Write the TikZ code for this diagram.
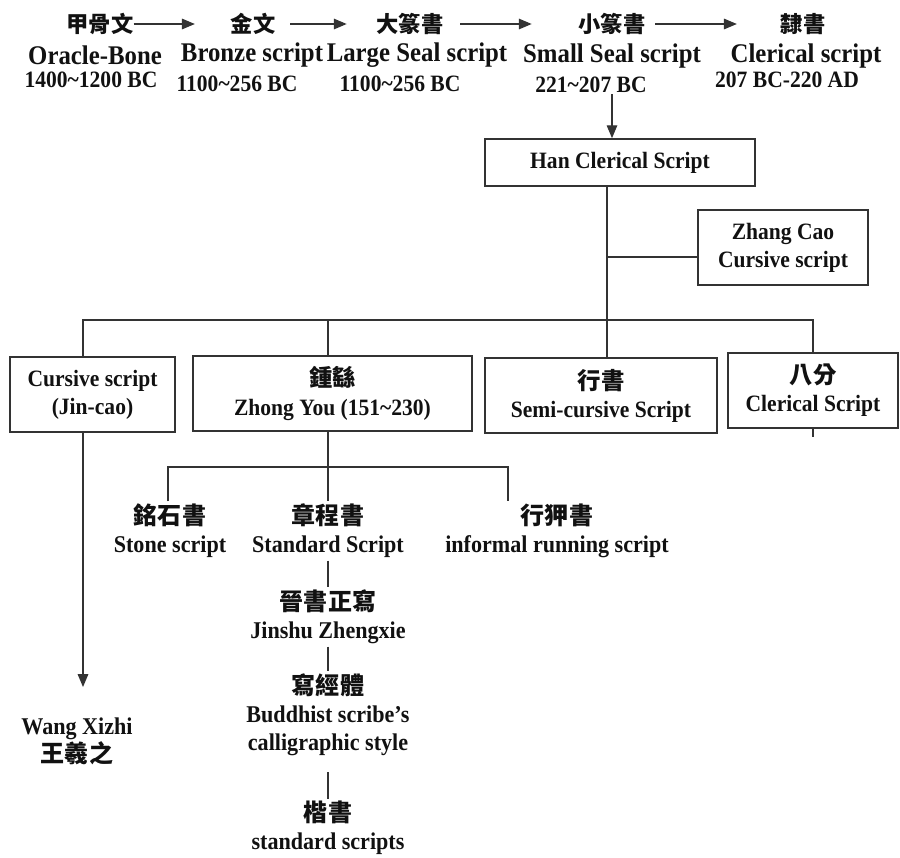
\documentclass[tikz,border=0pt]{standalone}
\usepackage{fontspec}
\setmainfont{Liberation Serif}[FakeStretch=0.92]
\newfontfamily\hanzi{Noto Sans CJK TC}
\usetikzlibrary{arrows.meta}
\definecolor{ink}{HTML}{111111}
\definecolor{wire}{HTML}{333333}

\begin{document}
\begin{tikzpicture}[x=0.03cm, y=-0.03cm, font=\bfseries, text=ink]
  % one unit = one pixel of the 900 x 857 sheet, y runs downward
  \useasboundingbox (0,0) rectangle (900,857);
  \tikzset{
    hz/.style={font=\hanzi\bfseries\fontsize{19}{24}\selectfont, inner sep=0pt},
    era/.style={font=\bfseries\fontsize{23}{26}\selectfont, inner sep=1pt},
    yr/.style={font=\bfseries\fontsize{20}{24}\selectfont, inner sep=1pt},
    box/.style={draw=wire, line width=1.4pt, align=center,
                font=\bfseries\fontsize{20}{24}\selectfont},
    txt/.style={align=center, inner sep=2pt,
                font=\bfseries\fontsize{20.5}{24}\selectfont},
    wire/.style={draw=wire, line width=1.1pt},
    arr/.style={wire, -{Triangle[length=11pt,width=9pt]}}}

  % ========== the top row: five eras, left to right ==========
  \node[hz] (c1) at (100,24) {甲骨文};
  \node[hz] (c2) at (253,24) {金文};
  \node[hz] (c3) at (410,24) {大篆書};
  \node[hz] (c4) at (612,24) {小篆書};
  \node[hz] (c5) at (803,24) {隸書};

  \node[era] (n1) at (95,55)  {Oracle-Bone};
  \node[era] (n2) at (252,55) {Bronze script};
  \node[era] (n3) at (417,55) {Large Seal script};
  \node[era] (n4) at (612,56) {Small Seal script};
  \node[era] (n5) at (806,56) {Clerical script};

  \node[yr] (d1) at (91,80)  {1400\textasciitilde1200 BC};
  \node[yr] (d2) at (237,84) {1100\textasciitilde256 BC};
  \node[yr] (d3) at (400,84) {1100\textasciitilde256 BC};
  \node[yr] (d4) at (591,85) {221\textasciitilde207 BC};
  \node[yr] (d5) at (787,80) {207 BC-220 AD};

  % the arrows sit on the Chinese line, each stops short of the next name
  \draw[arr, shorten >=1.07cm] (c1.east) -- (c2.west);
  \draw[arr, shorten <=0.44cm, shorten >=0.89cm] (c2.east) -- (c3.west);
  \draw[arr, shorten <=0.50cm, shorten >=1.40cm] (c3.east) -- (c4.west);
  \draw[arr, shorten <=0.29cm, shorten >=1.31cm] (c4.east) -- (c5.west);

  % ========== Han clerical and its branches ==========
  \node[box, minimum width=8.1cm, minimum height=1.41cm] (han) at (620,162.5)
    {Han Clerical Script};
  \coordinate (hx) at (612,100);
  \draw[arr] (d4.south -| hx) -- (han.north -| hx);

  \node[box, minimum width=5.1cm, minimum height=2.25cm] (zhang) at (783,247.5)
    {Zhang Cao\\Cursive script};

  \node[box, minimum width=4.95cm, minimum height=2.25cm] (cursive) at (92.5,394.5)
    {Cursive script\\(Jin-cao)};
  \node[box, minimum width=8.37cm, minimum height=2.25cm] (zhong) at (332.5,393.5)
    {{\hanzi 鍾繇}\\Zhong You (151\textasciitilde230)};
  \node[box, minimum width=6.96cm, minimum height=2.25cm] (semi) at (601,395.5)
    {{\hanzi 行書}\\Semi-cursive Script};
  \node[box, minimum width=5.1cm, minimum height=2.25cm] (bafen) at (813,390.5)
    {{\hanzi 八分}\\Clerical Script};

  \coordinate (jz) at (607,257);
  \coordinate (bm) at (607,320);
  \coordinate (bl) at (83,320);
  \coordinate (bz) at (328,320);
  \coordinate (br) at (813,320);
  \draw[wire] (han.south -| bm) -- (bm);
  \draw[wire] (jz) -- (zhang.west |- jz);
  \draw[wire] (bl |- cursive.north) -- (bl) -- (br) -- (br |- bafen.north);
  \draw[wire] (bz) -- (bz |- zhong.north);
  \draw[wire] (bm) -- (semi.north -| bm);
  \coordinate (tick) at (813,437);
  \draw[wire] (bafen.south -| tick) -- (tick);

  % ========== under Zhong You ==========
  \node[txt] (stone) at (170,531) {{\hanzi 銘石書}\\Stone script};
  \node[txt] (std)   at (328,531) {{\hanzi 章程書}\\Standard Script};
  \node[txt] (inf)   at (557,531) {{\hanzi 行狎書}\\informal running script};
  \node[txt] (jin)   at (328,617) {{\hanzi 晉書正寫}\\Jinshu Zhengxie};
  \node[txt] (xie)   at (328,715) {{\hanzi 寫經體}\\Buddhist scribe's\\calligraphic style};
  \node[txt] (kai)   at (328,828) {{\hanzi 楷書}\\standard scripts};

  \coordinate (sl) at (168,467);
  \coordinate (sr) at (508,467);
  \draw[wire] (zhong.south -| std) -- (std.north);
  \draw[wire] (sl |- stone.north) -- (sl) -- (sr) -- (sr |- inf.north);
  \draw[wire] (std) -- (jin);
  \draw[wire] (jin) -- (xie);
  \draw[wire, shorten <=0.4cm] (xie) -- (kai);

  % ========== the cursive line down to Wang Xizhi ==========
  \node[txt] (wang) at (77,741) {Wang Xizhi\\{\hanzi 王羲之}};
  \coordinate (wtip) at (83,687);
  \draw[arr] (cursive.south -| wtip) -- (wtip);
\end{tikzpicture}
\end{document}
